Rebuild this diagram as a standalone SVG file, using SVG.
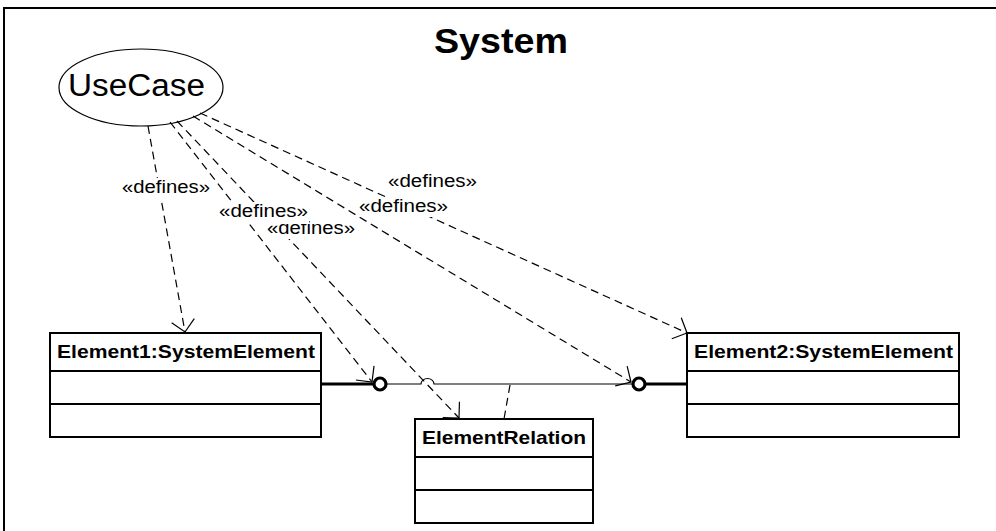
<svg xmlns="http://www.w3.org/2000/svg" width="996" height="531" viewBox="0 0 996 531">
<style>
.box{fill:#fff;stroke:#000;stroke-width:2}
.div{stroke:#000;stroke-width:2}
.bt{font-family:"Liberation Sans",Arial,sans-serif;font-weight:bold;font-size:19px;fill:#000}
.lbl{font-family:"Liberation Sans",Arial,sans-serif;font-size:18px;fill:#000}
.lbg{fill:#fff;stroke:none}
.dash{fill:none;stroke:#000;stroke-width:1.2;stroke-dasharray:8 5}
.thin{fill:none;stroke:#000;stroke-width:1.2}
.thick{fill:none;stroke:#000;stroke-width:3}
.port{fill:#fff;stroke:#000;stroke-width:3.2}
</style>
<defs>
<marker id="open" markerUnits="userSpaceOnUse" viewBox="-13 -13 15 26" markerWidth="15" markerHeight="26" refX="0" refY="0" orient="auto" overflow="visible">
<path d="M -11.5,-11.5 L 0,0 L -11.5,11.5" fill="none" stroke="#000" stroke-width="1.2"/>
</marker>
</defs>
<rect width="996" height="531" fill="#fff"/>
<g id="system">
<rect x="4" y="8" width="1000" height="600" fill="none" stroke="#000" stroke-width="2"/>
<text x="501" y="53" text-anchor="middle" font-family="Liberation Sans,Arial,sans-serif" font-weight="bold" font-size="35" textLength="134" lengthAdjust="spacingAndGlyphs">System</text>
</g>
<g id="usecase">
<ellipse cx="141" cy="87.5" rx="82" ry="38.5" fill="#fff" stroke="#000" stroke-width="1.2"/>
<text x="68" y="96" font-family="Liberation Sans,Arial,sans-serif" font-size="31" textLength="137" lengthAdjust="spacingAndGlyphs">UseCase</text>
</g>
<g id="element1">
<rect class="box" x="50" y="333" width="271" height="104"/>
<line class="div" x1="50" y1="371" x2="321" y2="371"/>
<line class="div" x1="50" y1="404" x2="321" y2="404"/>
<text class="bt" x="57" y="358" textLength="258" lengthAdjust="spacingAndGlyphs">Element1:SystemElement</text>
</g>
<g id="element2">
<rect class="box" x="687" y="333" width="272" height="104"/>
<line class="div" x1="687" y1="371" x2="959" y2="371"/>
<line class="div" x1="687" y1="404" x2="959" y2="404"/>
<text class="bt" x="694" y="358" textLength="259" lengthAdjust="spacingAndGlyphs">Element2:SystemElement</text>
</g>
<g id="elementrelation">
<rect class="box" x="415" y="419" width="178" height="104"/>
<line class="div" x1="415" y1="457" x2="593" y2="457"/>
<line class="div" x1="415" y1="490" x2="593" y2="490"/>
<text class="bt" x="422" y="444" textLength="164" lengthAdjust="spacingAndGlyphs">ElementRelation</text>
</g>
<g id="connectors">
<line class="thick" x1="321" y1="384" x2="374" y2="384"/>
<path class="thin" d="M 386,384 L 421,384 A 6.5 5.5 0 0 1 434,384 L 633,384"/>
<line class="thick" x1="645" y1="384" x2="687" y2="384"/>
<circle class="port" cx="380" cy="384" r="6"/>
<circle class="port" cx="639" cy="384" r="6"/>
<line class="dash" x1="148" y1="126" x2="185" y2="332" marker-end="url(#open)"/>
<line class="dash" x1="170" y1="122" x2="372" y2="382" marker-end="url(#open)"/>
<line class="dash" x1="177" y1="121" x2="459" y2="418" marker-end="url(#open)"/>
<line class="dash" x1="193" y1="116" x2="631" y2="382" marker-end="url(#open)"/>
<line class="dash" x1="200" y1="113" x2="687" y2="333" marker-end="url(#open)"/>
<line class="dash" x1="510" y1="385" x2="504" y2="419"/>
<g id="labels">
<rect class="lbg" x="121" y="178" width="91" height="20"/>
<text class="lbl" x="122" y="193" textLength="88" lengthAdjust="spacingAndGlyphs">«defines»</text>
<rect class="lbg" x="266" y="220" width="91" height="19"/>
<text class="lbl" x="267" y="234" textLength="88" lengthAdjust="spacingAndGlyphs">«defines»</text>
<rect class="lbg" x="218" y="202" width="91" height="22"/>
<text class="lbl" x="219" y="217" textLength="89" lengthAdjust="spacingAndGlyphs">«defines»</text>
<rect class="lbg" x="358" y="197" width="91" height="20"/>
<text class="lbl" x="359" y="212" textLength="89" lengthAdjust="spacingAndGlyphs">«defines»</text>
<rect class="lbg" x="387" y="172" width="91" height="20"/>
<text class="lbl" x="388" y="187" textLength="89" lengthAdjust="spacingAndGlyphs">«defines»</text>
</g>
</g>
</svg>
